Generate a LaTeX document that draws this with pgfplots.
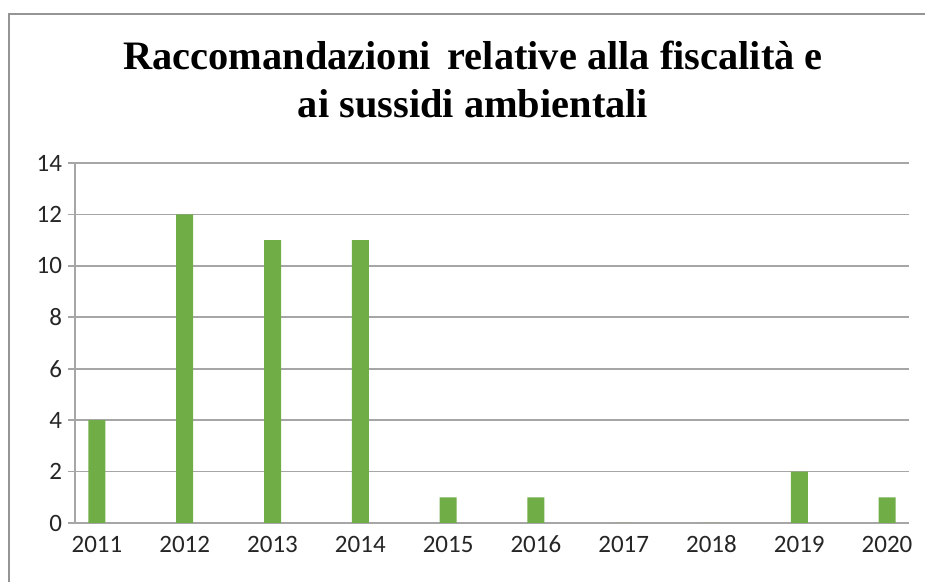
\documentclass[border=0pt]{standalone}
\usepackage{fontspec}
\setmainfont{Carlito}
\newfontfamily\titlefont{Liberation Serif}
\usepackage{pgfplots}
\pgfplotsset{compat=1.18}
\definecolor{barg}{HTML}{70AD47}
\definecolor{gridc}{HTML}{A6A6A6}
\begin{document}
\begin{tikzpicture}
\useasboundingbox (0,0) rectangle (462.5pt,291pt);
\draw[color=gridc!90!black, line width=0.8pt] (4.5pt,0) -- (4.5pt,284pt) -- (462.5pt,284pt);
\node[anchor=base, font=\titlefont\bfseries\fontsize{20.2pt}{24pt}\selectfont] at (236.5pt,256pt) {Raccomandazioni\ \,relative alla fiscalità e};
\node[anchor=base, font=\titlefont\bfseries\fontsize{20.2pt}{24pt}\selectfont] at (236.5pt,232pt) {ai sussidi ambientali};
\begin{axis}[
  scale only axis,
  width=417pt, height=180pt,
  at={(37.5pt,29.5pt)}, anchor=south west,
  xmin=-0.5, xmax=18.5, ymin=0, ymax=14,
  ytick={0,2,...,14},
  xtick={0,2,...,18},
  xticklabels={2011,2012,2013,2014,2015,2016,2017,2018,2019,2020},
  minor xtick={-0.5,0.5,...,18.5},
  major tick length=0pt,
  minor tick length=3pt,
  axis x line*=bottom,
  axis y line*=left,
  axis line style={gridc, line width=0.8pt, -},
  every tick/.style={gridc, line width=0.8pt},
  x tick style={draw=none},
  minor x tick style={gridc, line width=0.8pt},
  tick align=outside,
  ymajorgrids,
  grid style={gridc, line width=0.8pt},
  extra y ticks={0,2,...,14},
  extra y tick labels={},
  extra y tick style={major tick length=3.5pt, tick style={gridc, line width=0.8pt}, grid=none},
  ticklabel style={font=\fontsize{12.5pt}{14pt}\selectfont, text=black!85},
  /pgf/number format/assume math mode=true,
  yticklabel style={xshift=-3pt},
  xticklabel style={text height=8.5pt, text depth=0pt, yshift=-2.5pt},
  ybar, bar width=8.5pt,
]
\addplot[fill=barg, draw=none] coordinates {(0,4) (2,12) (4,11) (6,11) (8,1) (10,1) (12,0) (14,0) (16,2) (18,1)};
\end{axis}
\end{tikzpicture}
\end{document}
